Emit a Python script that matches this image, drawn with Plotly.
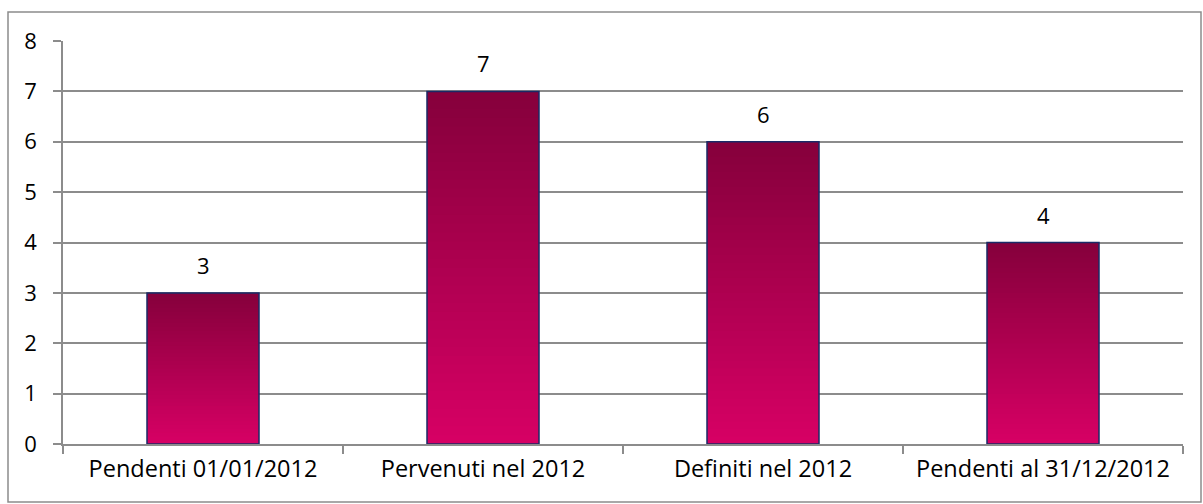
import plotly.graph_objects as go

categories = ["Pendenti 01/01/2012", "Pervenuti nel 2012", "Definiti nel 2012", "Pendenti al 31/12/2012"]
values = [3, 7, 6, 4]
y_ticks = [0, 1, 2, 3, 4, 5, 6, 7, 8]

top_rgb = (0x86, 0x00, 0x3C)
bot_rgb = (0xD6, 0x00, 0x64)
N = 40

fig = go.Figure()
for k in range(N):
    t = k / (N - 1)  # 0 bottom -> 1 top
    c = tuple(round(b + (a - b) * t) for a, b in zip(top_rgb, bot_rgb))
    fig.add_trace(go.Bar(
        x=categories,
        y=[v * (N - k) / N for v in values],
        base=[v * k / N for v in values],
        marker=dict(color="rgb(%d,%d,%d)" % c, line=dict(width=0)),
        width=0.4, hoverinfo="skip", showlegend=False,
    ))
fig.add_trace(go.Bar(
    x=categories, y=values, width=0.4,
    marker=dict(color="rgba(0,0,0,0)", line=dict(color="#1A2A66", width=1.5)),
    showlegend=False,
))
for c, v in zip(categories, values):
    fig.add_annotation(x=c, y=v, text=str(v), showarrow=False, yanchor="bottom",
                       yshift=11, font=dict(size=22, color="#000000"))

fig.add_shape(type="rect", xref="paper", yref="paper",
              x0=(8 - 63) / 1120, x1=1 + (1201 - 1183) / 1120,
              y0=-(502 - 444) / 403, y1=1 + (41 - 12) / 403,
              line=dict(color="#8c8c8c", width=1.5), layer="below")

fig.update_layout(
    width=1203, height=504,
    margin=dict(l=63, r=20, t=41, b=60),
    barmode="overlay", bargap=0.6,
    plot_bgcolor="white", paper_bgcolor="white",
    font=dict(family="Open Sans", size=22, color="#000000"),
    xaxis=dict(showgrid=False, showline=True, linecolor="#8c8c8c", linewidth=1.5,
               ticks="outside", tickson="boundaries", ticklen=8, tickcolor="#8c8c8c",
               tickwidth=1.5, tickfont=dict(size=23.5, color="#000000"),
               ticklabelstandoff=3),
    yaxis=dict(range=[0, 8], tickvals=y_ticks, showgrid=True, gridcolor="#8c8c8c",
               gridwidth=1.5, showline=True, linecolor="#8c8c8c", linewidth=1.5,
               ticks="outside", ticklen=8, tickcolor="#8c8c8c", tickwidth=1.5,
               tickfont=dict(size=22, color="#000000"), zeroline=False,
               ticklabelstandoff=12),
)
fig.write_html("out.html")
